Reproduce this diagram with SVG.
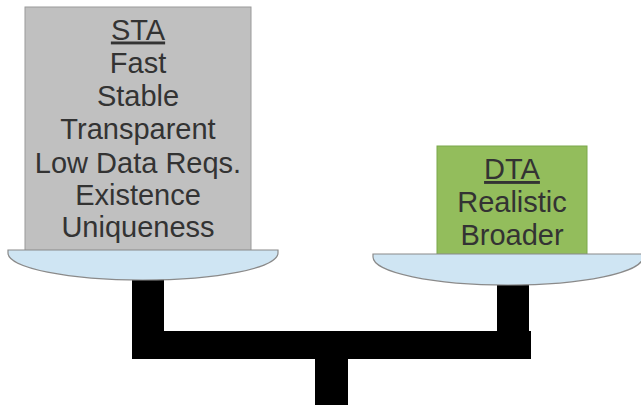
<svg xmlns="http://www.w3.org/2000/svg" width="641" height="405" viewBox="0 0 641 405">
<style>
.t{font-family:"Liberation Sans",Arial,sans-serif;font-size:29px;fill:#333333;text-anchor:middle}
.u{text-decoration:underline}
.plate{fill:#cfe5f3;stroke:#8a8a8a;stroke-width:1.2}
.beam{fill:#000000}
</style>
<g id="stand">
<rect class="beam" x="132" y="270" width="32" height="89"/>
<rect class="beam" x="497" y="270" width="32" height="89"/>
<rect class="beam" x="132" y="331" width="399" height="28"/>
<rect class="beam" x="315" y="359" width="33" height="46"/>
</g>
<g id="sta">
<rect x="25" y="7" width="226" height="244" fill="#c0c0c0" stroke="#9a9a9a" stroke-width="1"/>
<text class="t u" x="138" y="39.5">STA</text>
<text class="t" x="138" y="73">Fast</text>
<text class="t" x="138" y="106">Stable</text>
<text class="t" x="138" y="138.5">Transparent</text>
<text class="t" x="138" y="173">Low Data Reqs.</text>
<text class="t" x="138" y="205">Existence</text>
<text class="t" x="138" y="237">Uniqueness</text>
</g>
<g id="dta">
<rect x="437" y="146" width="150" height="109" fill="#93bd5c" stroke="#7aa84a" stroke-width="1"/>
<text class="t u" x="512" y="179">DTA</text>
<text class="t" x="512" y="212">Realistic</text>
<text class="t" x="512" y="245">Broader</text>
</g>
<g id="left-plate">
<path class="plate" d="M8,250 L278,250 L278,253 A135,27 0 0 1 8,253 Z"/>
</g>
<g id="right-plate">
<path class="plate" d="M373,254 L643,254 L643,257 A135,28 0 0 1 373,257 Z"/>
</g>
</svg>
